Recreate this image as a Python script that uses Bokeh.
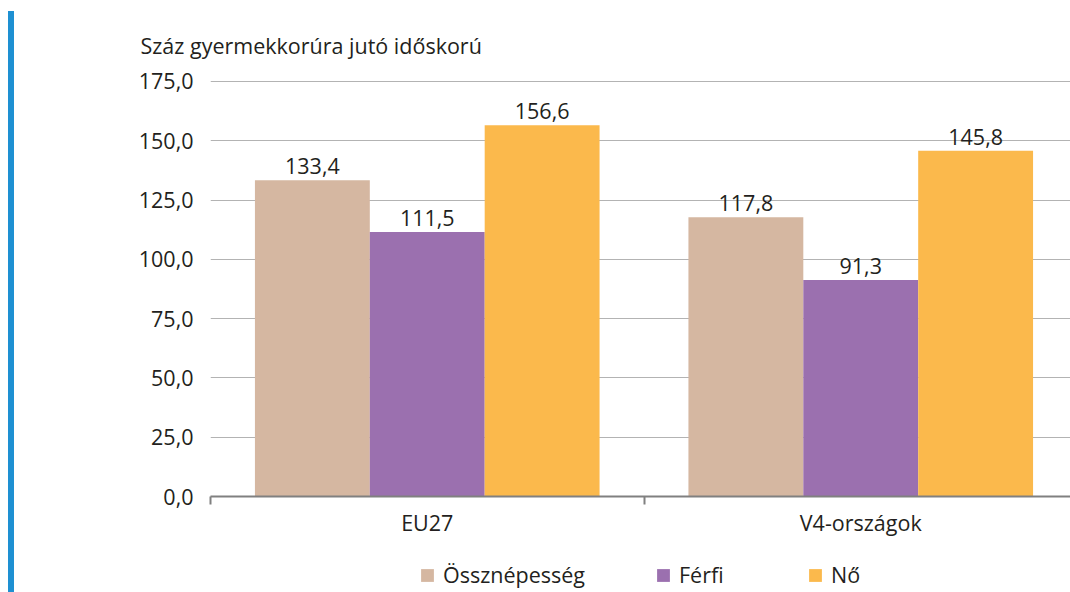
from bokeh.plotting import figure
from bokeh.models import (Range1d, FixedTicker, Legend, LegendItem, Title, Div,
                          ColumnDataSource)
from bokeh.layouts import row, column
from bokeh.transform import dodge
from bokeh.embed import file_html
from bokeh.resources import INLINE

categories = ["EU27", "V4-országok"]
series = ["Össznépesség", "Férfi", "Nő"]
ossz = [133.4, 117.8]
ferfi = [111.5, 91.3]
no = [156.6, 145.8]
colors = ["#d5b7a1", "#9b70af", "#fbb94c"]
y_ticks = [0, 25, 50, 75, 100, 125, 150, 175]
title_text = "Száz gyermekkorúra jutó időskorú"

FONT = "Open Sans"
FS = "21.5px"
TXT = "#231f20"

def fmt(v):
    return f"{v:.1f}".replace(".", ",")

xpos = [i + 0.5 for i in range(len(categories))]
src = ColumnDataSource(dict(
    x=xpos,
    ossz=ossz, ferfi=ferfi, no=no,
    ossz_l=[fmt(v) for v in ossz],
    ferfi_l=[fmt(v) for v in ferfi],
    no_l=[fmt(v) for v in no],
))

px_per_cat = 433.5
frame_w = 1070 - 210
x_end = frame_w / px_per_cat

p = figure(width=1056, height=545, output_backend="svg", toolbar_location=None,
           x_range=Range1d(0, x_end), y_range=Range1d(0, 177.95),
           min_border_left=196, min_border_right=0, min_border_top=74,
           min_border_bottom=49)
p.outline_line_color = None
p.background_fill_color = "white"
p.border_fill_color = "white"

bw = 0.265
keys = ["ossz", "ferfi", "no"]
offsets = [-bw, 0, bw]
for k, off, c in zip(keys, offsets, colors):
    p.vbar(x=dodge("x", off, range=p.x_range), top=k, width=bw, bottom=0,
           source=src, fill_color=c, line_color=None)
    p.text(x=dodge("x", off, range=p.x_range), y=k, text=k + "_l", source=src,
           text_align="center", text_baseline="bottom", y_offset=-6,
           text_font={"value": FONT}, text_font_size=FS, text_color=TXT)

# x axis
p.xaxis.ticker = FixedTicker(ticks=xpos, minor_ticks=[0, 1, 2])
p.xaxis.major_label_overrides = {xpos[i]: categories[i] for i in range(len(categories))}
p.xaxis.major_tick_line_color = None
p.xaxis.major_tick_out = 0
p.xaxis.major_tick_in = 0
p.xaxis.minor_tick_line_color = "#808080"
p.xaxis.minor_tick_line_width = 2
p.xaxis.minor_tick_out = 8
p.xaxis.minor_tick_in = 0
p.xaxis.axis_line_color = "#808080"
p.xaxis.axis_line_width = 2
p.xaxis.major_label_standoff = 3
p.xaxis.major_label_text_font = FONT
p.xaxis.major_label_text_font_size = FS
p.xaxis.major_label_text_color = TXT

# y axis
p.yaxis.ticker = FixedTicker(ticks=y_ticks, minor_ticks=[])
p.yaxis.major_label_overrides = {t: fmt(t) for t in y_ticks}
p.yaxis.axis_line_color = None
p.yaxis.major_tick_line_color = None
p.yaxis.minor_tick_line_color = None
p.yaxis.major_tick_out = 0
p.yaxis.major_tick_in = 0
p.yaxis.major_label_standoff = 17
p.yaxis.major_label_text_font = FONT
p.yaxis.major_label_text_font_size = FS
p.yaxis.major_label_text_color = TXT

p.xgrid.grid_line_color = None
p.ygrid.grid_line_color = "#b3b3b3"
p.ygrid.grid_line_width = 1

t = Title(text=title_text, align="left", offset=-70, text_font=FONT,
          text_font_size="21.5px", text_font_style="normal", text_color=TXT,
          standoff=29)
p.add_layout(t, "above")

# legend strip below the chart (frame aligned with the chart's frame)
pl = figure(width=1056, height=47, output_backend="svg", toolbar_location=None,
            x_range=Range1d(0, 1), y_range=Range1d(0, 1),
            x_axis_location=None, y_axis_location=None,
            min_border=0)
pl.outline_line_color = None
pl.xgrid.grid_line_color = None
pl.ygrid.grid_line_color = None
leg_x = [209, 445, 597]
for name, c, lx in zip(series, colors, leg_x):
    # zero-height swatch renderer, used only for the legend glyph
    r = pl.vbar(x=[0.5], top=[0], bottom=[0], width=0.01,
                fill_color=c, line_color=None)
    lg = Legend(items=[LegendItem(label=name, renderers=[r])],
                location=(lx, 3), orientation="horizontal",
                glyph_width=16, glyph_height=16, label_standoff=8,
                label_text_font=FONT, label_text_font_size=FS,
                label_text_color=TXT, label_height=20,
                padding=0, margin=0, border_line_color=None,
                background_fill_alpha=0)
    pl.add_layout(lg, "center")

bar = Div(width=6, height=581, margin=(11, 0, 0, 8),
          styles={"background-color": "#1e90d2"})
layout = row(bar, column(p, pl, spacing=0), spacing=0)

open("out.html", "w").write(file_html(layout, INLINE))
